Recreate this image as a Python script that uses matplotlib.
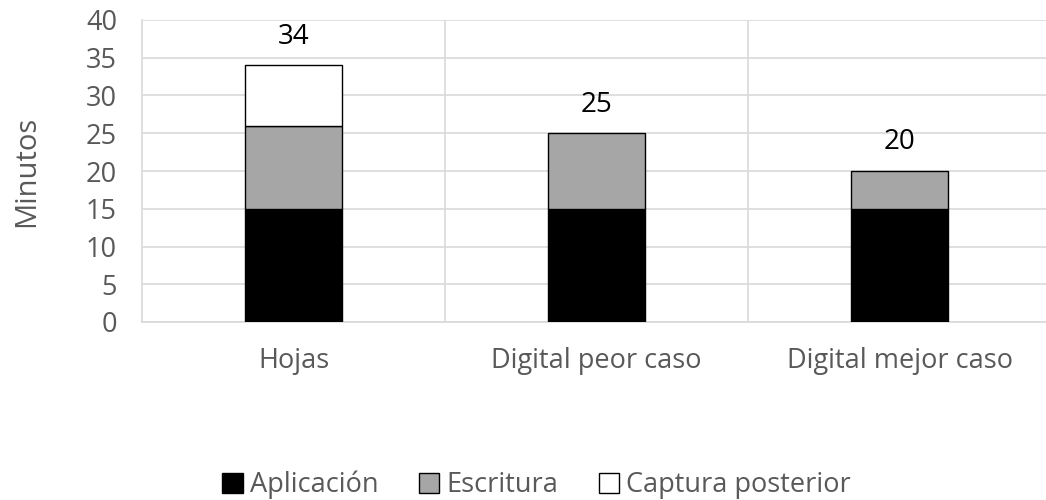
import numpy as np
import matplotlib.pyplot as plt

plt.rcParams['font.family'] = ['Open Sans', 'DejaVu Sans']

categorias = ['Hojas', 'Digital peor caso', 'Digital mejor caso']
aplicacion = [15, 15, 15]
escritura = [11, 10, 5]
captura = [8, 0, 0]
series = ['Aplicación', 'Escritura', 'Captura posterior']

fig = plt.figure(figsize=(10.46, 5.0), dpi=100)
ax = fig.add_axes([142 / 1046, 1 - 322 / 500, 1 - 142 / 1046 + 0.005, (322 - 20) / 500])

x = np.arange(len(categorias))
w = 0.32
gris = '#595959'

b1 = ax.bar(x, aplicacion, w, color='black', edgecolor='black', linewidth=1, label=series[0], zorder=3)
b2 = ax.bar(x, escritura, w, bottom=aplicacion, color='#a6a6a6', edgecolor='black', linewidth=1,
            label=series[1], zorder=3)
base = np.array(aplicacion) + np.array(escritura)
cap = [c if c > 0 else np.nan for c in captura]
b3 = ax.bar(x, cap, w, bottom=base, color='white', edgecolor='black', linewidth=1,
            label=series[2], zorder=3)

totales = base + np.array(captura)
for xi, t in zip(x, totales):
    ax.annotate(str(t), (xi, t), xytext=(0, 15.5), textcoords='offset points',
                ha='center', va='baseline', fontsize=20, color='black')

ax.set_xlim(-0.5, 2.5)
ax.set_ylim(0, 40)
ax.set_yticks(range(0, 41, 5))
ax.set_xticks(x)
ax.set_xticklabels(categorias)
ax.set_xticks([0.5, 1.5], minor=True)
ax.tick_params(axis='both', which='both', length=0, labelcolor=gris)
ax.tick_params(axis='x', pad=18, labelsize=19.5)
ax.tick_params(axis='y', pad=18, labelsize=19.5)
ax.grid(axis='y', color='#d9d9d9', linewidth=1.2, zorder=0)
ax.grid(axis='x', which='minor', color='#d9d9d9', linewidth=1.2, zorder=0)
for s in ['top', 'right']:
    ax.spines[s].set_visible(False)
ax.spines['left'].set_color('#d9d9d9')
ax.spines['bottom'].set_color('#d9d9d9')
ax.spines['left'].set_linewidth(1.2)
ax.spines['bottom'].set_linewidth(1.2)

ax.set_ylabel('Minutos', fontsize=21, color=gris, labelpad=32)

fig.legend(handles=[b1, b2, b3], labels=series, loc='center', bbox_to_anchor=(0.513, 0.03),
           ncol=3, frameon=False, fontsize=19.5, labelcolor=gris, handlelength=0.75,
           handleheight=0.75, handletextpad=0.26, columnspacing=1.5)

fig.savefig('out.png', dpi=100)
